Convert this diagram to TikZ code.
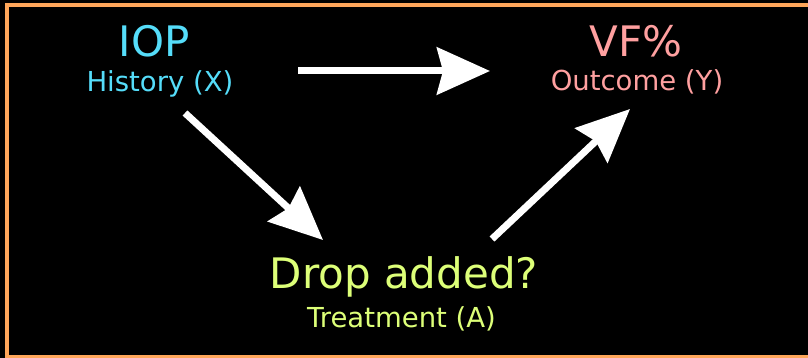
\documentclass[tikz,border=0pt]{standalone}
\usepackage{fontspec}
\setmainfont{DejaVu Sans}
\usetikzlibrary{arrows.meta}
\definecolor{frameorange}{HTML}{FFA65A}
\definecolor{xcyan}{HTML}{55DDFA}
\definecolor{ypink}{HTML}{FFA0A0}
\definecolor{alime}{HTML}{DDFF78}
\tikzset{
  bigtxt/.style={anchor=base, inner sep=0pt, font=\fontsize{42}{50}\selectfont},
  smalltxt/.style={anchor=base, inner sep=0pt, font=\fontsize{27.5}{33}\selectfont},
  causal/.style={draw=white, line width=7pt,
    -{Stealth[length=53pt, width=47pt, inset=6pt]}}
}
\begin{document}
\begin{tikzpicture}[x=1pt, y=-1pt]
\useasboundingbox (0,0) rectangle (808,358);
\clip (0,0) rectangle (808,358);
\fill[black] (0,0) rectangle (808,358);
\draw[frameorange, line width=4pt] (7,5) rectangle (830,357);
% labels
\node[bigtxt, text=xcyan] (iop) at (154,57) {IOP};
\node[smalltxt, text=xcyan] (hist) at (160,92) {History (X)};
\node[bigtxt, text=ypink] (vf) at (636,57) {VF\%};
\node[smalltxt, text=ypink] (outc) at (637,91) {Outcome (Y)};
\node[bigtxt, text=alime] (drop) at (404,288) {Drop added?};
\node[smalltxt, text=alime] (treat) at (401.5,327) {Treatment (A)};
% arrow end points
\coordinate (xy1) at (298,71);
\coordinate (xy2) at (490,71);
\coordinate (xa1) at (185,113);
\coordinate (xa2) at (323,240);
\coordinate (ay1) at (492,239);
\coordinate (ay2) at (630,109);
\draw[causal] (xy1) -- (xy2);
\draw[causal] (xa1) -- (xa2);
\draw[causal] (ay1) -- (ay2);
\end{tikzpicture}
\end{document}
